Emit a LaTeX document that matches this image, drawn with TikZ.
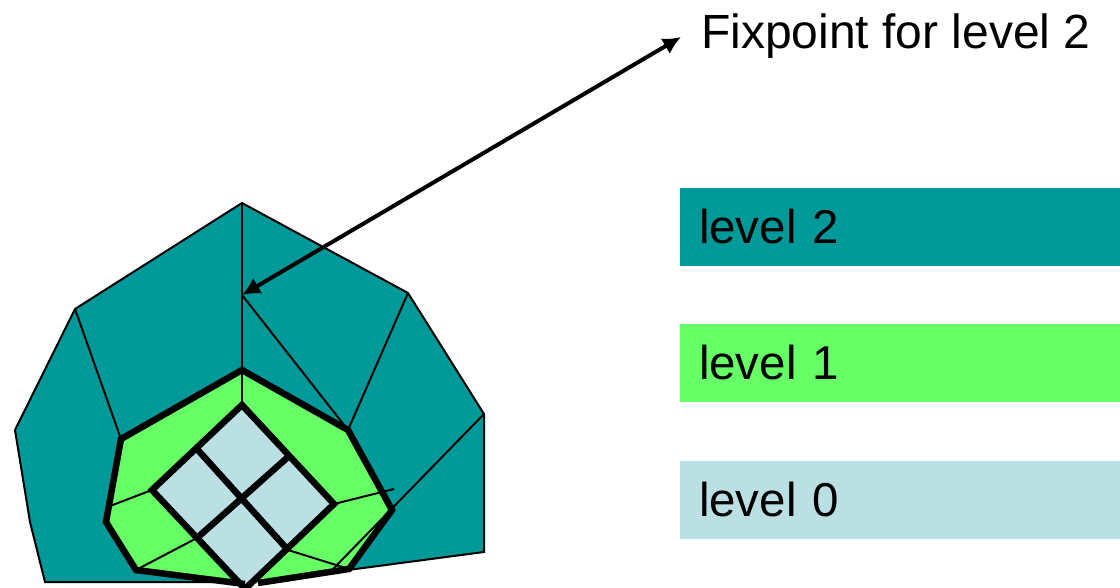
\documentclass[tikz,border=0pt]{standalone}
\usepackage{fontspec}
\setmainfont{Liberation Sans}
\usetikzlibrary{arrows.meta}
\definecolor{leveltwo}{HTML}{009999}
\definecolor{levelone}{HTML}{66FF66}
\definecolor{levelzero}{HTML}{BBE0E3}
\begin{document}
\begin{tikzpicture}[
	x=1pt, y=-1pt,
	t/.style = {rectangle, minimum width=440pt, minimum height=78pt, inner sep=0pt, text width=402pt, align=left, font=\fontsize{47.5}{50}\selectfont},
	w/.style = {font=\fontsize{48}{50}\selectfont, anchor=base west, inner sep=0pt},
	l/.style = {line width=2pt},
	b/.style = {line width=6.5pt, line join=miter},
	r/.style = {{Latex[length=18pt,width=18pt]}-{Latex[length=18pt,width=18pt]}, line width=4pt}
	]
	\useasboundingbox (0, 0) rectangle (1120, 587);
	
	%Points
	\coordinate (top)	at	(242, 203);
	\coordinate (o1)	at	(408, 293);
	\coordinate (o2)	at	(484, 414);
	\coordinate (o3)	at	(484, 552);
	\coordinate (o4)	at	(348, 570);
	\coordinate (o5)	at	(257, 582);
	\coordinate (o6)	at	(45, 582);
	\coordinate (o7)	at	(30, 522);
	\coordinate (o8)	at	(15, 430);
	\coordinate (o9)	at	(75, 309);
	\coordinate (fix)	at	(242, 295);
	
	\coordinate (m1)	at	(242, 370);
	\coordinate (m2)	at	(348, 430);
	\coordinate (m3)	at	(392, 510);
	\coordinate (m4)	at	(349, 569);
	\coordinate (m5)	at	(258, 583);
	\coordinate (m6)	at	(245, 584);
	\coordinate (m7)	at	(136, 570);
	\coordinate (m8)	at	(106, 522);
	\coordinate (m9)	at	(121, 439);
	
	\coordinate (d1)	at	(242, 405);
	\coordinate (d2)	at	(334, 504);
	\coordinate (d3)	at	(245, 589);
	\coordinate (d4)	at	(152, 490);
	\coordinate (e1)	at	(197, 449);
	\coordinate (e2)	at	(288, 457);
	\coordinate (e3)	at	(288, 550);
	\coordinate (e4)	at	(197, 538);
	
	\coordinate (s1)	at	(394, 489);
	\coordinate (s2)	at	(333, 569);
	\coordinate (s3)	at	(110, 506);
	\coordinate (arrowend)	at	(681, 37);
	
	%Regions
	\fill[leveltwo] (top) -- (o1) -- (o2) -- (o3) -- (o4) -- (o5) -- (o6) -- (o7) -- (o8) -- (o9) -- cycle;
	\draw[l, line join=miter] (o5) -- (o6) -- (o7) -- (o8) -- (o9) -- (top) -- (o1) -- (o2) -- (o3) -- (o4);
	\fill[levelone] (m1) -- (m2) -- (m3) -- (m4) -- (m5) -- (m6) -- (m7) -- (m8) -- (m9) -- cycle;
	\fill[levelzero] (d1) -- (d2) -- (d3) -- (d4) -- cycle;
	
	%Lines
	\draw[l] (top) -- (m1);
	\draw[l] (m1) -- (d1);
	\draw[l] (o9) -- (m9);
	\draw[l] (o1) -- (m2);
	\draw[l] (fix) -- (m2);
	\draw[l] (o2) -- (s2);
	\draw[l] (d4) -- (s3);
	\draw[l] (e4) -- (m7);
	\draw[l] (d2) -- (s1);
	\draw[l] (e3) -- (m4);
	
	\draw[b] (m6) -- (m7) -- (m8) -- (m9) -- (m1) -- (m2) -- (m3) -- (m4) -- (m5);
	\draw[b] (d1) -- (d2) -- (d3) -- (d4) -- cycle;
	\draw[b] (e1) -- (e3);
	\draw[b] (e4) -- (e2);
	
	%Legend
	\node[t, fill=leveltwo]		(two)	at	(900, 227)	{\raisebox{-3pt}{level 2}};
	\node[t, fill=levelone]		(one)	at	(900, 363)	{\raisebox{-3pt}{level 1}};
	\node[t, fill=levelzero]	(zero)	at	(900, 500)	{\raisebox{-3pt}{level 0}};
	\node[w] (label) at (701, 48) {Fixpoint for level 2};
	
	\draw[r] (arrowend) -- (fix);
\end{tikzpicture}
\end{document}
